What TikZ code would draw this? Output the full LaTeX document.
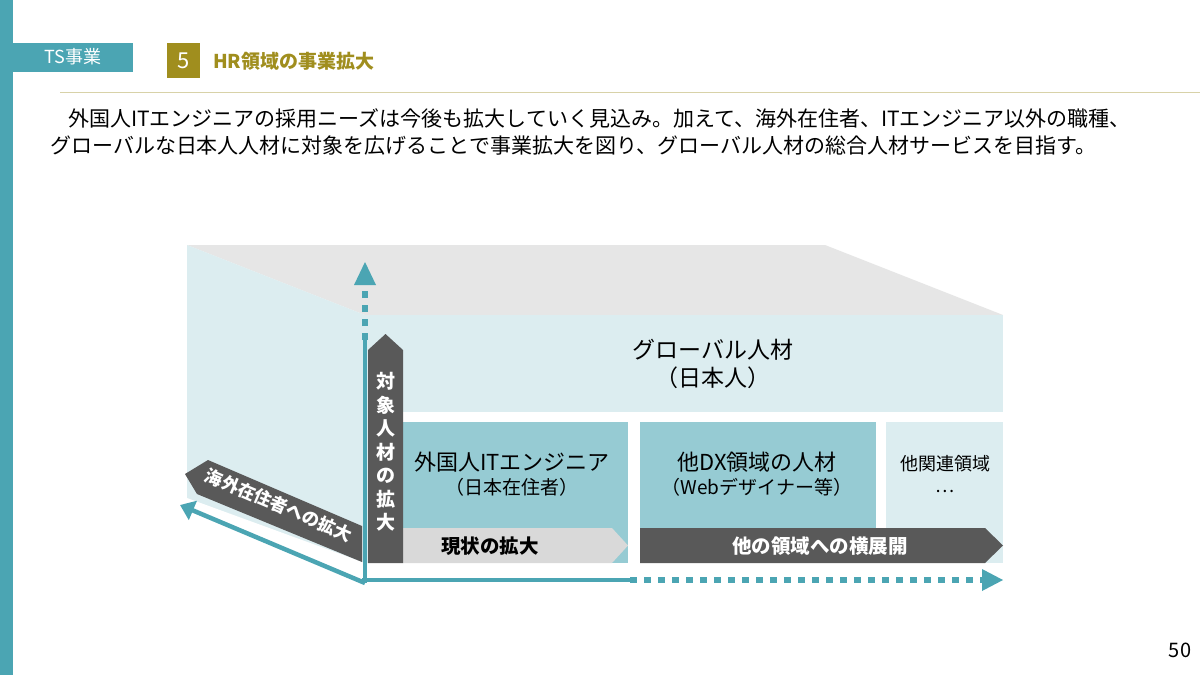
\documentclass[tikz,border=0pt]{standalone}
\usepackage{fontspec}
\setmainfont{Noto Sans CJK JP}
\usetikzlibrary{arrows.meta}
\definecolor{teal}{HTML}{4BA5B3}
\definecolor{olive}{HTML}{A08E1E}
\definecolor{lblue}{HTML}{DCEDF0}
\definecolor{mblue}{HTML}{96CBD3}
\definecolor{dgray}{HTML}{595959}
\definecolor{lgray}{HTML}{E6E6E6}
\definecolor{cgray}{HTML}{D9D9D9}
\begin{document}
\begin{tikzpicture}[x=1pt,y=-1pt,
  txt/.style={font=\fontsize{22}{26}\selectfont, align=center, inner sep=0pt},
  lbl/.style={font=\fontsize{19.5}{22}\selectfont\bfseries, inner sep=0pt},
  axis/.style={teal, line width=4.5pt},
  daxis/.style={teal, line width=6pt, dash pattern=on 7pt off 7pt}]
\useasboundingbox[fill=white] (0,0) rectangle (1200,675);
% header
\fill[teal] (0,0) rectangle (13,675);
\fill[teal] (13,43) rectangle (133,72);
\node[text=white, font=\fontsize{18}{20}\selectfont, inner sep=0pt] (ts) at (73,57) {TS事業};
\fill[olive] (167,43) rectangle (200,78);
\node[text=white, font=\fontsize{22}{24}\selectfont, inner sep=0pt] (five) at (183.5,61) {5};
\node[text=olive, font=\fontsize{19}{20}\selectfont\bfseries, anchor=west, inner sep=0pt] (title) at (213,61) {HR領域の事業拡大};
\draw[color={rgb,255:red,216;green,210;blue,168}, line width=1pt] (60,92) -- (1200,92);
\node[font=\fontsize{21}{22}\selectfont, anchor=west, inner sep=0pt] (l1) at (68,118) {外国人ITエンジニアの採用ニーズは今後も拡大していく見込み。加えて、海外在住者、ITエンジニア以外の職種、};
\node[font=\fontsize{21}{22}\selectfont, anchor=west, inner sep=0pt] (l2) at (50,146) {グローバルな日本人人材に対象を広げることで事業拡大を図り、グローバル人材の総合人材サービスを目指す。};
% cube
\fill[lgray] (187,245) -- (825,245) -- (1003,315) -- (365,315) -- cycle;
\fill[lblue] (187,245) -- (365,315) -- (365,583) -- (187,505) -- cycle;
\fill[lblue] (365,315) rectangle (1003,563);
\fill[white] (403,412) rectangle (1003,422);
\fill[mblue] (403,422) rectangle (628,563);
\fill[white] (628,422) rectangle (640,563);
\fill[mblue] (640,422) rectangle (876,563);
\fill[white] (876,422) rectangle (886,563);
\fill[white] (365,563) rectangle (1003,583);
\fill[white] (365,583) -- (187,505) -- (187,498) -- (365,563) -- cycle;
\node[txt, font=\fontsize{23}{28}\selectfont] (glob) at (713,364) {グローバル人材\\（日本人）};
\node[txt] (fe) at (512,474) {外国人ITエンジニア\\[-2pt]{\fontsize{19}{22}\selectfont（日本在住者）}};
\node[txt] (dx) at (757,474) {他DX領域の人材\\[-2pt]{\fontsize{19}{22}\selectfont（Webデザイナー等）}};
\node[txt, font=\fontsize{18}{22}\selectfont] (oth) at (945,474) {他関連領域\\…};
% band arrows
\fill[cgray] (403,528) -- (612,528) -- (628,545.5) -- (612,563) -- (403,563) -- cycle;
\node[lbl] (cur) at (490,546) {現状の拡大};
\fill[dgray] (640,528) -- (985,528) -- (1003,545.5) -- (985,563) -- (640,563) -- cycle;
\node[lbl, text=white] (hor) at (820,546) {他の領域への横展開};
\fill[dgray] (368,563) -- (368,350) -- (385.5,334) -- (403,350) -- (403,563) -- cycle;
\node[lbl, text=white, align=center, font=\fontsize{19}{23.5}\selectfont\bfseries] (vert) at (385.5,452) {対\\象\\人\\材\\の\\拡\\大};
\fill[dgray] (362,526) -- (362,562) -- (197,494) -- (185,474) -- (208,460) -- cycle;
\node[lbl, text=white, rotate=-23, font=\fontsize{17.5}{20}\selectfont\bfseries] (diag) at (279,505) {海外在住者への拡大};
% axes
\coordinate (o) at (365,583);
\coordinate (vs) at (365,340);
\coordinate (vt) at (365,262);
\coordinate (hs) at (630,580);
\coordinate (ht) at (1003,580);
\coordinate (dt) at (180,505);
\draw[axis] (o) -- (vs);
\draw[daxis] (vs) -- (365,287);
\fill[teal] (vt) -- (376,285) -- (354,285) -- cycle;
\draw[axis] (362,580) -- (hs);
\draw[daxis] (hs) -- (982,580);
\fill[teal] (ht) -- (982,569) -- (982,591) -- cycle;
\draw[axis, -{Triangle[length=14pt,width=20pt]}] (o) -- (dt);
\node[font=\fontsize{20}{20}\selectfont, inner sep=0pt] (pg) at (1180,650) {50};
\end{tikzpicture}
\end{document}
